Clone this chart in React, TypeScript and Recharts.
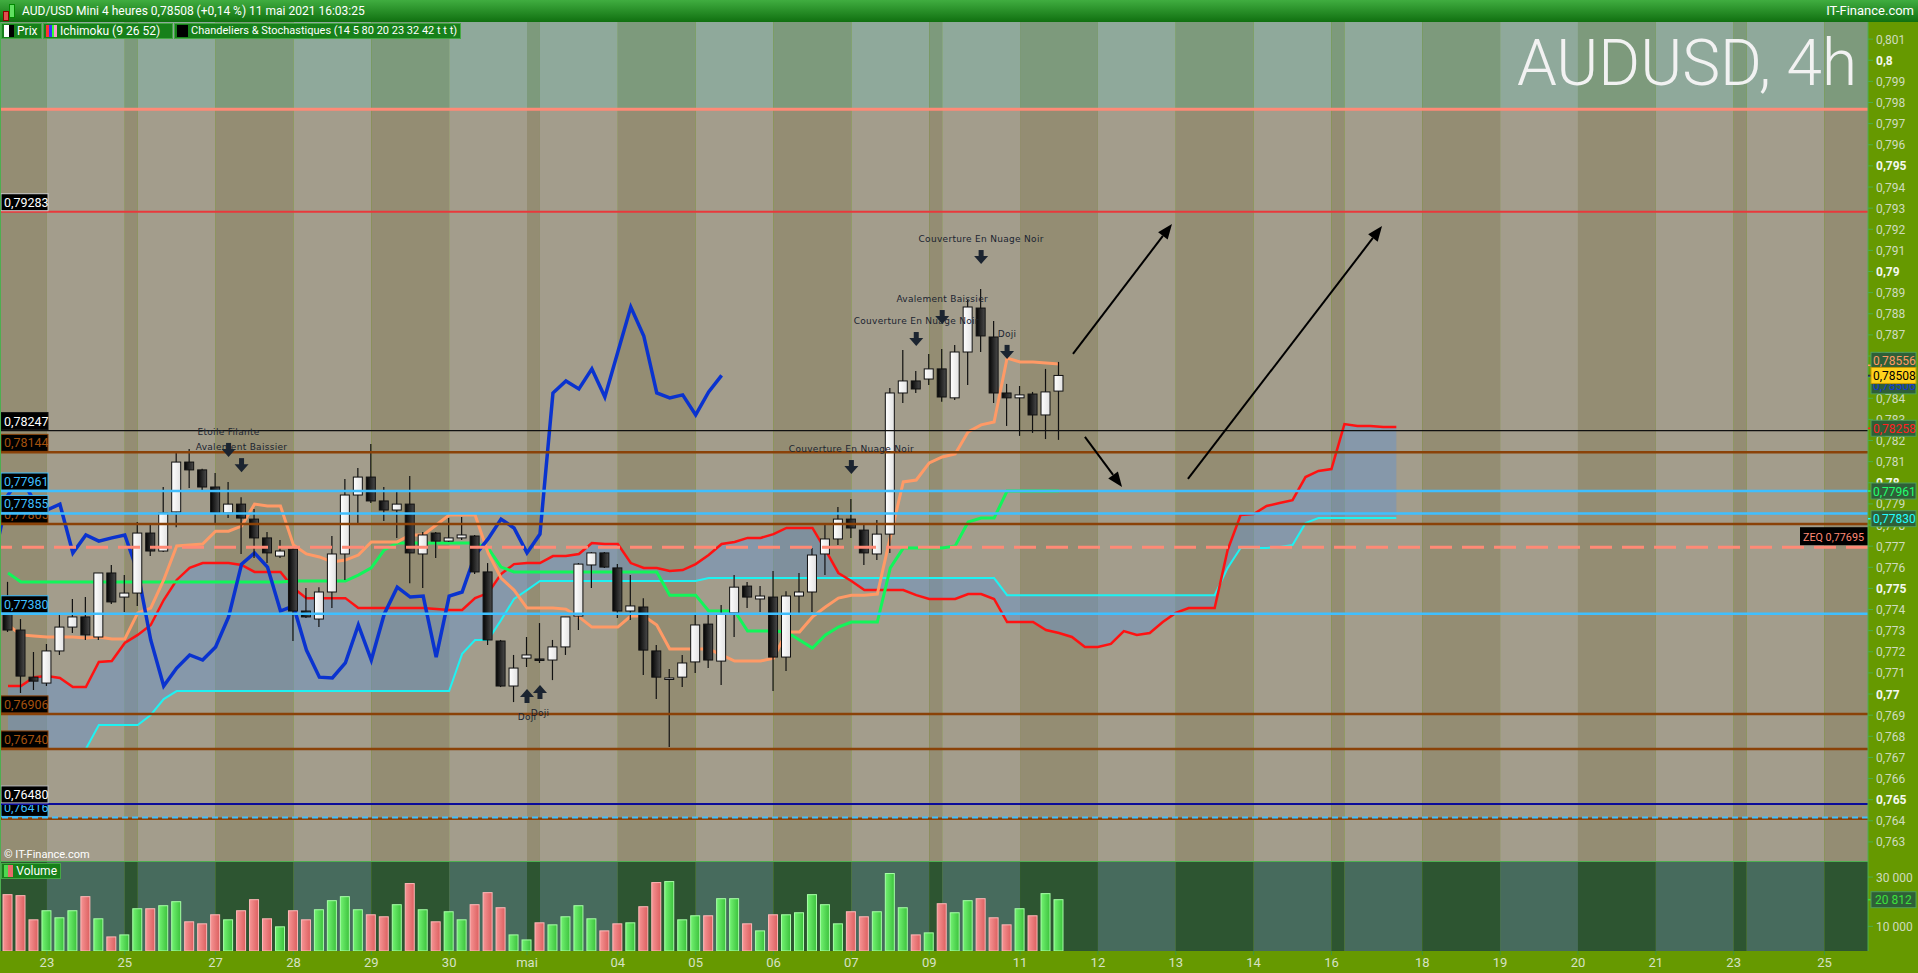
import React from 'react';
import {
  ComposedChart, Bar, Line, Area, XAxis, YAxis,
  ReferenceLine, ReferenceArea, ReferenceDot,
} from 'recharts';

// AUD/USD 4h candles, 22 avr -> 11 mai 2021 (index 0 = first full candle)
const OPEN = [
  0.77384, 0.77303, 0.77080, 0.77052, 0.77204, 0.77317, 0.77365, 0.77270, 0.77573, 0.77459,
  0.77478, 0.77762, 0.77677, 0.77862, 0.78098, 0.78061, 0.77980, 0.77857, 0.77899, 0.77828,
  0.77739, 0.77653, 0.77686, 0.77393, 0.77355, 0.77483, 0.77663, 0.77942, 0.78027, 0.77914,
  0.77871, 0.77899, 0.77663, 0.77762, 0.77724, 0.77739, 0.77748, 0.77578, 0.77251, 0.77038,
  0.77170, 0.77166, 0.77161, 0.77223, 0.77369, 0.77611, 0.77668, 0.77597, 0.77393, 0.77412,
  0.77204, 0.77071, 0.77080, 0.77152, 0.77331, 0.77156, 0.77384, 0.77511, 0.77450, 0.77459,
  0.77175, 0.77464, 0.77483, 0.77663, 0.77734, 0.77828, 0.77776, 0.77663, 0.77757, 0.78425,
  0.78482, 0.78491, 0.78539, 0.78402, 0.78619, 0.78827, 0.78690, 0.78425, 0.78402, 0.78420,
  0.78321, 0.78434,
];
const HIGH = [
  0.77531, 0.77355, 0.77199, 0.77237, 0.77374, 0.77450, 0.77459, 0.77573, 0.77611, 0.77563,
  0.77814, 0.77805, 0.77980, 0.78146, 0.78160, 0.78066, 0.78046, 0.78004, 0.77932, 0.77876,
  0.77767, 0.77729, 0.77696, 0.77502, 0.77506, 0.77748, 0.78018, 0.78070, 0.78184, 0.77980,
  0.77961, 0.78032, 0.77767, 0.77767, 0.77833, 0.77838, 0.77753, 0.77620, 0.77256, 0.77185,
  0.77270, 0.77336, 0.77256, 0.77365, 0.77620, 0.77672, 0.77672, 0.77615, 0.77563, 0.77454,
  0.77232, 0.77118, 0.77185, 0.77379, 0.77379, 0.77421, 0.77563, 0.77530, 0.77511, 0.77582,
  0.77487, 0.77573, 0.77691, 0.77800, 0.77885, 0.77923, 0.77805, 0.77824, 0.78449, 0.78628,
  0.78529, 0.78610, 0.78633, 0.78652, 0.78865, 0.78917, 0.78766, 0.78468, 0.78458, 0.78430,
  0.78539, 0.78572,
];
const LOW = [
  0.77294, 0.77005, 0.77019, 0.77038, 0.77185, 0.77289, 0.77256, 0.77256, 0.77426, 0.77388,
  0.77417, 0.77653, 0.77672, 0.77790, 0.77975, 0.77956, 0.77800, 0.77833, 0.77663, 0.77644,
  0.77620, 0.77644, 0.77251, 0.77360, 0.77317, 0.77407, 0.77540, 0.77800, 0.77904, 0.77819,
  0.77739, 0.77525, 0.77502, 0.77644, 0.77720, 0.77729, 0.77568, 0.77232, 0.77033, 0.76962,
  0.77128, 0.77147, 0.77066, 0.77185, 0.77303, 0.77502, 0.77597, 0.77360, 0.77350, 0.77090,
  0.76976, 0.76749, 0.77033, 0.77100, 0.77123, 0.77043, 0.77270, 0.77407, 0.77388, 0.77014,
  0.77109, 0.77374, 0.77388, 0.77563, 0.77705, 0.77739, 0.77611, 0.77634, 0.77668, 0.78378,
  0.78425, 0.78463, 0.78383, 0.78392, 0.78463, 0.78619, 0.78378, 0.78269, 0.78222, 0.78236,
  0.78207, 0.78203,
];
const CLOSE = [
  0.77303, 0.77085, 0.77061, 0.77204, 0.77317, 0.77365, 0.77280, 0.77573, 0.77436, 0.77478,
  0.77762, 0.77677, 0.77857, 0.78098, 0.78061, 0.77980, 0.77857, 0.77899, 0.77833, 0.77739,
  0.77668, 0.77677, 0.77393, 0.77365, 0.77483, 0.77663, 0.77942, 0.78027, 0.77914, 0.77871,
  0.77899, 0.77668, 0.77753, 0.77724, 0.77739, 0.77753, 0.77578, 0.77256, 0.77038, 0.77123,
  0.77185, 0.77161, 0.77223, 0.77365, 0.77615, 0.77668, 0.77601, 0.77393, 0.77417, 0.77208,
  0.77080, 0.77076, 0.77147, 0.77327, 0.77161, 0.77379, 0.77506, 0.77459, 0.77464, 0.77175,
  0.77464, 0.77483, 0.77658, 0.77734, 0.77828, 0.77786, 0.77668, 0.77757, 0.78425, 0.78482,
  0.78444, 0.78539, 0.78406, 0.78619, 0.78832, 0.78695, 0.78425, 0.78402, 0.78416, 0.78321,
  0.78430, 0.78508,
];
const VOLUME = [
  22860, 22450, 12650, 16330, 13470, 16330, 22040, 13060, 5710, 6530,
  17140, 17140, 18370, 20000, 11840, 11020, 14690, 12650, 16330, 20820,
  13060, 9800, 16330, 12650, 16730, 20410, 22040, 16730, 14690, 13880,
  18780, 27350, 16730, 11840, 15920, 12650, 18780, 23670, 17550, 6530,
  4490, 11430, 10610, 13880, 18370, 13060, 8160, 11020, 11430, 17960,
  27750, 28160, 12650, 14290, 14290, 21220, 21220, 11020, 8160, 14690,
  14690, 15510, 22860, 18780, 11020, 15920, 13880, 15920, 31430, 17550,
  6530, 7350, 19180, 15510, 20410, 21220, 13470, 10610, 17140, 14290,
  23270, 20812,
];

// Ichimoku (9 26 52)
const TENKAN = [
  0.77327, 0.77280, 0.77275, 0.77270, 0.77270, 0.77270, 0.77265, 0.77270, 0.77261, 0.77261,
  0.77384, 0.77407, 0.77540, 0.77701, 0.77705, 0.77710, 0.77771, 0.77771, 0.77795, 0.77899,
  0.77890, 0.77890, 0.77705, 0.77663, 0.77649, 0.77625, 0.77634, 0.77658, 0.77720, 0.77720,
  0.77720, 0.77753, 0.77753, 0.77800, 0.77847, 0.77847, 0.77847, 0.77668, 0.77549, 0.77492,
  0.77407, 0.77407, 0.77407, 0.77402, 0.77365, 0.77317, 0.77317, 0.77317, 0.77369, 0.77369,
  0.77327, 0.77213, 0.77213, 0.77213, 0.77213, 0.77185, 0.77156, 0.77156, 0.77156, 0.77170,
  0.77294, 0.77294, 0.77365, 0.77412, 0.77454, 0.77468, 0.77468, 0.77473, 0.77743, 0.78004,
  0.78013, 0.78094, 0.78122, 0.78136, 0.78241, 0.78274, 0.78288, 0.78590, 0.78572, 0.78572,
  0.78567, 0.78562,
];
const KIJUN = [
  0.77573, 0.77530, 0.77530, 0.77530, 0.77530, 0.77530, 0.77530, 0.77530, 0.77530, 0.77530,
  0.77530, 0.77530, 0.77530, 0.77530, 0.77530, 0.77530, 0.77530, 0.77530, 0.77530, 0.77530,
  0.77530, 0.77530, 0.77535, 0.77535, 0.77535, 0.77535, 0.77535, 0.77563, 0.77597, 0.77682,
  0.77715, 0.77715, 0.77715, 0.77715, 0.77715, 0.77715, 0.77715, 0.77691, 0.77601, 0.77578,
  0.77578, 0.77578, 0.77578, 0.77578, 0.77578, 0.77578, 0.77578, 0.77578, 0.77578, 0.77578,
  0.77578, 0.77468, 0.77468, 0.77468, 0.77393, 0.77393, 0.77393, 0.77298, 0.77298, 0.77298,
  0.77294, 0.77256, 0.77218, 0.77280, 0.77317, 0.77341, 0.77341, 0.77341, 0.77597, 0.77691,
  0.77691, 0.77691, 0.77691, 0.77701, 0.77814, 0.77833, 0.77833, 0.77961, 0.77961, 0.77961,
  0.77961, 0.77961,
];
const SENKOU_A = [
  0.77038, 0.77038, 0.77080, 0.77085, 0.77076, 0.77033, 0.77033, 0.77152, 0.77156, 0.77242,
  0.77280, 0.77327, 0.77445, 0.77540, 0.77597, 0.77620, 0.77620, 0.77620, 0.77611, 0.77578,
  0.77578, 0.77578, 0.77502, 0.77454, 0.77454, 0.77454, 0.77454, 0.77407, 0.77407, 0.77407,
  0.77407, 0.77407, 0.77407, 0.77402, 0.77398, 0.77398, 0.77454, 0.77478, 0.77568, 0.77615,
  0.77620, 0.77620, 0.77653, 0.77653, 0.77663, 0.77715, 0.77710, 0.77710, 0.77620, 0.77597,
  0.77597, 0.77582, 0.77587, 0.77615, 0.77658, 0.77710, 0.77720, 0.77739, 0.77739, 0.77757,
  0.77786, 0.77786, 0.77786, 0.77682, 0.77573, 0.77535, 0.77492, 0.77492, 0.77492, 0.77492,
  0.77468, 0.77450, 0.77450, 0.77450, 0.77473, 0.77473, 0.77450, 0.77341, 0.77341, 0.77341,
  0.77303, 0.77289, 0.77270, 0.77223, 0.77223, 0.77237, 0.77298, 0.77280, 0.77289, 0.77341,
  0.77384, 0.77407, 0.77407, 0.77407, 0.77682, 0.77847, 0.77852, 0.77890, 0.77904, 0.77918,
  0.78027, 0.78056, 0.78065, 0.78278, 0.78269, 0.78269, 0.78264, 0.78264,
];
const SENKOU_B = [
  0.76740, 0.76740, 0.76740, 0.76740, 0.76740, 0.76740, 0.76740, 0.76853, 0.76853, 0.76853,
  0.76853, 0.76901, 0.76976, 0.77014, 0.77014, 0.77014, 0.77014, 0.77014, 0.77014, 0.77014,
  0.77014, 0.77014, 0.77014, 0.77014, 0.77014, 0.77014, 0.77014, 0.77014, 0.77014, 0.77014,
  0.77014, 0.77014, 0.77014, 0.77014, 0.77014, 0.77190, 0.77256, 0.77256, 0.77350, 0.77450,
  0.77492, 0.77535, 0.77535, 0.77535, 0.77535, 0.77535, 0.77535, 0.77535, 0.77535, 0.77535,
  0.77535, 0.77535, 0.77535, 0.77535, 0.77549, 0.77549, 0.77549, 0.77549, 0.77549, 0.77549,
  0.77549, 0.77549, 0.77549, 0.77549, 0.77549, 0.77549, 0.77549, 0.77549, 0.77549, 0.77549,
  0.77549, 0.77549, 0.77549, 0.77549, 0.77549, 0.77549, 0.77549, 0.77468, 0.77468, 0.77468,
  0.77468, 0.77468, 0.77468, 0.77468, 0.77468, 0.77468, 0.77468, 0.77468, 0.77468, 0.77468,
  0.77468, 0.77468, 0.77468, 0.77468, 0.77597, 0.77691, 0.77691, 0.77691, 0.77696, 0.77705,
  0.77809, 0.77833, 0.77833, 0.77833, 0.77833, 0.77833, 0.77833, 0.77833,
];
const CHIKOU_SHIFT = 26;

// time axis: day boundaries (in candle index), labels
const DAY_BOUNDS = [3, 9, 10, 16, 22, 28, 34, 40, 41, 47, 53, 59, 65, 71, 72, 78, 84, 90, 96, 102, 103, 109, 115, 121, 127, 133, 134, 140];
const DAY_TICKS = [3, 9, 16, 22, 28, 34, 40, 47, 53, 59, 65, 71, 78, 84, 90, 96, 102, 109, 115, 121, 127, 133, 140];
const DAY_LABELS = ['23', '25', '27', '28', '29', '30', 'mai', '04', '05', '06', '07', '09', '11', '12', '13', '14', '16', '18', '19', '20', '21', '23', '25'];

const PRICE_TICKS = [
  0.763, 0.764, 0.765, 0.766, 0.767, 0.768, 0.769, 0.770, 0.771, 0.772,
  0.773, 0.774, 0.775, 0.776, 0.777, 0.778, 0.779, 0.780, 0.781, 0.782,
  0.783, 0.784, 0.785, 0.786, 0.787, 0.788, 0.789, 0.790, 0.791, 0.792,
  0.793, 0.794, 0.795, 0.796, 0.797, 0.798, 0.799, 0.800, 0.801,
];
const VOLUME_TICKS = [10000, 30000];

// drawn horizontal levels (ascending)
const LEVEL_PRICES = [0.76410, 0.76416, 0.76480, 0.76740, 0.76906, 0.77380, 0.77695, 0.77805, 0.77855, 0.77961, 0.78144, 0.78247, 0.79283, 0.79768];
const LEVEL_KINDS = ['brownPlain', 'blueDash', 'navy', 'brown', 'brown', 'blue', 'zeq', 'brown', 'blue', 'blue', 'brown', 'black', 'red', 'salmon'];
const ZONE_TOP = 0.79768;

// last-value badges on the price axis
const BADGE_VALUES = [0.78556, 0.78506, 0.78508, 0.78258, 0.77961, 0.77830];
const BADGE_KINDS = ['tenkan', 'chikou', 'price', 'senkouA', 'kijun', 'senkouB'];

// candlestick patterns
const PATTERN_IDX = [17, 18, 40, 41, 65, 70, 72, 75, 77];
const PATTERN_NAMES = ['Etoile Filante', 'Avalement Baissier', 'Doji', 'Doji', 'Couverture En Nuage Noir', 'Couverture En Nuage Noir', 'Avalement Baissier', 'Couverture En Nuage Noir', 'Doji'];
const PATTERN_DIRS = ['down', 'down', 'up', 'up', 'down', 'down', 'down', 'down', 'down'];

// hand-drawn arrows
const ARROW_FROM_X = [82.08, 83.0, 90.94];
const ARROW_FROM_Y = [0.78610, 0.78217, 0.78018];
const ARROW_TO_X = [89.71, 85.86, 105.9];
const ARROW_TO_Y = [0.79225, 0.77980, 0.79215];

const X_MIN = -0.617;
const X_MAX = 143.353;
const P_MIN = 0.76205;
const P_MAX = 0.80181;
const V_MAX = 36100;

const LEVEL_STYLE: Record<string, any> = {
  salmon: { stroke: '#ff8a76', width: 3 },
  red: { stroke: '#e8393b', width: 2, text: '#ffffff', border: '#d0d0d0' },
  black: { stroke: '#111111', width: 1.2, text: '#ffffff', border: '#111111' },
  brown: { stroke: '#8a4208', width: 2.5, text: '#a4520f', border: '#8a4208' },
  brownPlain: { stroke: '#8a4208', width: 2.5 },
  blue: { stroke: '#3fbfff', width: 2.5, text: '#3fbfff', border: '#3fbfff' },
  blueDash: { stroke: '#3fbfff', width: 2, dash: '6 4', text: '#3fbfff', border: '#3fbfff' },
  navy: { stroke: '#0b0b9a', width: 2, text: '#ffffff', border: '#bbbbbb' },
  zeq: { stroke: '#ff8a76', width: 3, dash: '22 10' },
};

const BADGE_STYLE: Record<string, any> = {
  tenkan: { text: '#ff9a66', fill: '#2f5f38', dy: -5 },
  chikou: { text: '#1838d0', fill: '#2f5f38', dy: 10 },
  price: { text: '#000000', fill: '#ffd21c', dy: 0 },
  senkouA: { text: '#ff2020', fill: '#2f5f38', dy: 0 },
  kijun: { text: '#22ff6e', fill: '#2f5f38', dy: 0 },
  senkouB: { text: '#22ffff', fill: '#2f5f38', dy: 0 },
};

const FONT = 'Roboto, "Noto Sans", sans-serif';

const fmtPrice = (v: number) => v.toFixed(5).replace('.', ',');
const fmtTick = (v: number) => String(Number(v.toFixed(3))).replace('.', ',');
const fmtVolume = (v: number) => String(v).replace(/\B(?=(\d{3})+(?!\d))/g, ' ');

// partial candle at the left edge only shows through its lagging span
const priceRows: any[] = [
  { idx: -1, chikou: CLOSE[CHIKOU_SHIFT - 1] },
  ...SENKOU_A.map((a, i) => ({
    idx: i,
    open: OPEN[i],
    high: HIGH[i],
    low: LOW[i],
    close: CLOSE[i],
    tenkan: TENKAN[i],
    kijun: KIJUN[i],
    senkouA: a,
    senkouB: SENKOU_B[i],
    chikou: i + CHIKOU_SHIFT < CLOSE.length ? CLOSE[i + CHIKOU_SHIFT] : undefined,
  })),
];

const volumeRows = VOLUME.map((v, i) => ({ idx: i, volume: v, up: CLOSE[i] >= OPEN[i] }));

const segments = (() => {
  const b = [X_MIN, ...DAY_BOUNDS, X_MAX];
  return b.slice(0, -1).map((x1, i) => ({ x1, x2: b[i + 1], dark: i % 2 === 0 }));
})();

const renderCandle = (props: any) => {
  const { x, y, width, height, payload } = props;
  if (!payload || payload.open == null || !isFinite(y) || !isFinite(height)) return <g />;
  const ratio = height / (payload.high - payload.low);
  const yOf = (v: number) => y + (payload.high - v) * ratio;
  const up = payload.close >= payload.open;
  const top = yOf(Math.max(payload.open, payload.close));
  const bottom = yOf(Math.min(payload.open, payload.close));
  const cx = x + width / 2;
  return (
    <g>
      <line x1={cx} y1={y} x2={cx} y2={y + height} stroke="#111" strokeWidth={1.2} />
      <rect x={x + 0.5} y={top} width={width - 1} height={Math.max(bottom - top, 1.5)}
        fill={up ? 'url(#candleUp)' : 'url(#candleDown)'} stroke="#111" strokeWidth={1} />
    </g>
  );
};

const renderVolume = (props: any) => {
  const { x, y, width, height, payload } = props;
  if (!payload || !isFinite(height)) return <g />;
  const up = payload.up;
  return (
    <rect x={x + 0.5} y={y} width={width - 1} height={height}
      fill={up ? 'url(#volUp)' : 'url(#volDown)'} stroke={up ? '#a6ffa6' : '#ffb8b8'} strokeWidth={1} />
  );
};

const renderLevel = (props: any, price: number, kind: string) => {
  const { x1, y1, x2, y2 } = props;
  const left = Math.min(x1, x2);
  const right = Math.max(x1, x2);
  const s = LEVEL_STYLE[kind];
  return (
    <g>
      <line x1={x1} y1={y1} x2={x2} y2={y2} stroke={s.stroke} strokeWidth={s.width} strokeDasharray={s.dash} />
      {s.text && (
        <g>
          <rect x={left + 1} y={y1 - 18} width={47} height={17} fill="#000" stroke={s.border} strokeWidth={1} />
          <text x={left + 4} y={y1 - 5} fontSize={12.5} fill={s.text} fontFamily={FONT}>{fmtPrice(price)}</text>
        </g>
      )}
      {kind === 'zeq' && (
        <g>
          <rect x={right - 68} y={y1 - 20} width={68} height={18} fill="#000" />
          <text x={right - 65} y={y1 - 6.5} fontSize={11.5} fill="#ff8a76" fontFamily={FONT}
            textLength={61} lengthAdjust="spacingAndGlyphs">{'ZEQ ' + fmtPrice(price)}</text>
        </g>
      )}
    </g>
  );
};

const renderBadge = (props: any, value: number, kind: string) => {
  const { cx, cy } = props;
  const s = BADGE_STYLE[kind];
  const yc = cy + s.dy;
  return (
    <g>
      <line x1={cx} y1={cy} x2={cx + 4} y2={cy} stroke={kind === 'price' ? '#333' : s.text} strokeWidth={1.5} />
      <rect x={cx + 3} y={yc - 8} width={45} height={16} fill={s.fill} stroke={kind === 'price' ? '#c89a00' : '#4f9f5a'} strokeWidth={1} />
      <text x={cx + 5} y={yc + 4.5} fontSize={12} fill={s.text} fontFamily={FONT}>{fmtPrice(value)}</text>
    </g>
  );
};

const renderPattern = (props: any, name: string, dir: string) => {
  const { cx, cy } = props;
  const c = '#1b2430';
  if (dir === 'down') {
    const top = cy - 39;
    return (
      <g>
        <text x={cx} y={cy - 47} textAnchor="middle" fontSize={9} letterSpacing={0.3} fill={c} fontFamily='"DejaVu Sans", sans-serif'>{name}</text>
        <rect x={cx - 2.5} y={top} width={5} height={7} fill={c} />
        <polygon points={`${cx - 7},${top + 6} ${cx + 7},${top + 6} ${cx},${cy - 25}`} fill={c} />
      </g>
    );
  }
  const tip = cy + 22;
  return (
    <g>
      <polygon points={`${cx - 7},${tip + 8} ${cx + 7},${tip + 8} ${cx},${tip}`} fill={c} />
      <rect x={cx - 2.5} y={tip + 7} width={5} height={7} fill={c} />
      <text x={cx} y={cy + 53} textAnchor="middle" fontSize={9} letterSpacing={0.3} fill={c} fontFamily='"DejaVu Sans", sans-serif'>{name}</text>
    </g>
  );
};

const renderArrow = (props: any) => {
  const { x1, y1, x2, y2 } = props;
  const a = Math.atan2(y2 - y1, x2 - x1);
  const len = 15;
  const hw = 6;
  const bx = x2 - len * Math.cos(a);
  const by = y2 - len * Math.sin(a);
  const px = -Math.sin(a) * hw;
  const py = Math.cos(a) * hw;
  return (
    <g>
      <line x1={x1} y1={y1} x2={bx} y2={by} stroke="#000" strokeWidth={2} />
      <polygon points={`${x2},${y2} ${bx + px},${by + py} ${bx - px},${by - py}`} fill="#000" />
    </g>
  );
};

const PriceTick = (props: any) => {
  const { x, y, payload } = props;
  const v = payload.value;
  const major = Math.round(v * 1000) % 5 === 0;
  return (
    <text x={x + 1} y={y + 4.5} fontSize={12} fill={major ? '#f4f8ee' : '#cfdcbf'} fontWeight={major ? 700 : 400} fontFamily={FONT}>
      {fmtTick(v)}
    </text>
  );
};

const VolumeTick = (props: any) => {
  const { x, y, payload } = props;
  return (
    <text x={x + 1} y={y + 4.5} fontSize={12} fill="#cfdcbf" fontFamily={FONT}>{fmtVolume(payload.value)}</text>
  );
};

const DayTick = (props: any) => {
  const { x, y, payload } = props;
  const label = DAY_LABELS[DAY_TICKS.indexOf(payload.value)];
  return (
    <text x={x} y={y + 10} textAnchor="middle" fontSize={13} fill="#d6e2c4" fontFamily={FONT}>{label}</text>
  );
};

const legendBox: React.CSSProperties = {
  position: 'absolute', top: 23, height: 16, background: '#17801a', border: '1px solid #45a845',
  color: '#fff', fontSize: 12, lineHeight: '16px', display: 'flex', alignItems: 'center', gap: 3,
  padding: '0 3px 0 2px', boxSizing: 'border-box', whiteSpace: 'nowrap',
};

export default function App() {
  return (
    <div style={{ position: 'relative', width: 1918, height: 973, background: '#669900', overflow: 'hidden', fontFamily: FONT }}>
      <style>{'body{margin:0}'}</style>

      {/* header */}
      <div style={{ position: 'absolute', left: 0, top: 0, width: 1918, height: 22, background: 'linear-gradient(#40ad40, #107010)' }}>
        <div style={{ position: 'absolute', left: 3, top: 11, width: 4, height: 8, background: '#e05050', border: '1px solid #800' }} />
        <div style={{ position: 'absolute', left: 9, top: 4, width: 4, height: 12, background: '#60e060', border: '1px solid #080' }} />
        <div style={{ position: 'absolute', left: 22, top: 0, lineHeight: '22px', fontSize: 12, color: '#fff', whiteSpace: 'nowrap' }}>
          AUD/USD Mini 4 heures 0,78508 (+0,14 %) 11 mai 2021 16:03:25
        </div>
        <div style={{ position: 'absolute', right: 4, top: 0, lineHeight: '22px', fontSize: 13, color: '#fff' }}>IT-Finance.com</div>
      </div>

      {/* price pane */}
      <div style={{ position: 'absolute', left: 0, top: 22 }}>
        <ComposedChart width={1918} height={840} data={priceRows} margin={{ top: 0, right: 0, bottom: 0, left: 0 }}>
          <defs>
            <linearGradient id="candleDown" x1="0" y1="0" x2="1" y2="0">
              <stop offset="0%" stopColor="#050505" />
              <stop offset="100%" stopColor="#4a4a4a" />
            </linearGradient>
            <linearGradient id="candleUp" x1="0" y1="0" x2="1" y2="0">
              <stop offset="0%" stopColor="#ffffff" />
              <stop offset="100%" stopColor="#e2e2e2" />
            </linearGradient>
          </defs>
          <XAxis dataKey="idx" type="number" domain={[X_MIN, X_MAX]} allowDataOverflow hide />
          <YAxis orientation="right" width={50} domain={[P_MIN, P_MAX]} allowDataOverflow ticks={PRICE_TICKS} interval={0}
            tick={<PriceTick />} tickSize={5} tickMargin={2} tickLine={{ stroke: '#4caf50' }} axisLine={{ stroke: '#4caf50' }} />

          {segments.map((s, i) => (
            <ReferenceArea key={'lo' + i} x1={s.x1} x2={s.x2} y1={P_MIN} y2={ZONE_TOP} ifOverflow="hidden"
              fill={s.dark ? '#948d73' : '#a39d8c'} fillOpacity={1} stroke="none" zIndex={-500} />
          ))}
          {segments.map((s, i) => (
            <ReferenceArea key={'hi' + i} x1={s.x1} x2={s.x2} y1={ZONE_TOP} y2={P_MAX} ifOverflow="hidden"
              fill={s.dark ? '#7d9a7c' : '#8fa99b'} fillOpacity={1} stroke="none" zIndex={-500} />
          ))}

          <Area dataKey={(d: any) => (d.senkouA != null ? [d.senkouB, d.senkouA] : null)} type="linear" fill="#6a94c8" fillOpacity={0.5}
            stroke="none" isAnimationActive={false} activeDot={false} zIndex={100} />
          <Line dataKey="senkouB" type="linear" stroke="#1ef2f2" strokeWidth={2} dot={false} activeDot={false} isAnimationActive={false} />
          <Line dataKey="senkouA" type="linear" stroke="#ff1212" strokeWidth={2.5} dot={false} activeDot={false} isAnimationActive={false} />
          <Line dataKey="kijun" type="linear" stroke="#12f55a" strokeWidth={3} dot={false} activeDot={false} isAnimationActive={false} />
          <Line dataKey="tenkan" type="linear" stroke="#ff9a66" strokeWidth={3} dot={false} activeDot={false} isAnimationActive={false} />
          <Line dataKey="chikou" type="linear" stroke="#0a33cf" strokeWidth={3.5} dot={false} activeDot={false} isAnimationActive={false} />

          <Bar dataKey={(d: any) => (d.open != null ? [d.low, d.high] : null)} barSize={10} shape={renderCandle}
            isAnimationActive={false} zIndex={450} />

          {LEVEL_PRICES.map((p, i) => (
            <ReferenceLine key={'lv' + i} y={p} ifOverflow="visible" zIndex={460}
              shape={(props: any) => renderLevel(props, p, LEVEL_KINDS[i])} />
          ))}

          {PATTERN_IDX.map((k, i) => (
            <ReferenceDot key={'pt' + i} x={k} y={PATTERN_DIRS[i] === 'down' ? HIGH[k] : LOW[k]} ifOverflow="visible" zIndex={470}
              shape={(props: any) => renderPattern(props, PATTERN_NAMES[i], PATTERN_DIRS[i])} />
          ))}

          {ARROW_FROM_X.map((x, i) => (
            <ReferenceLine key={'ar' + i} ifOverflow="visible" zIndex={470}
              segment={[{ x, y: ARROW_FROM_Y[i] }, { x: ARROW_TO_X[i], y: ARROW_TO_Y[i] }]} shape={renderArrow} />
          ))}

          {BADGE_VALUES.map((v, i) => (
            <ReferenceDot key={'bd' + i} x={X_MAX} y={v} ifOverflow="visible" zIndex={2100}
              shape={(props: any) => renderBadge(props, v, BADGE_KINDS[i])} />
          ))}
        </ComposedChart>
      </div>

      {/* volume pane */}
      <div style={{ position: 'absolute', left: 0, top: 862 }}>
        <ComposedChart width={1918} height={111} data={volumeRows} margin={{ top: 0, right: 0, bottom: 0, left: 0 }}>
          <defs>
            <linearGradient id="volUp" x1="0" y1="0" x2="1" y2="0">
              <stop offset="0%" stopColor="#72f272" />
              <stop offset="100%" stopColor="#3cc23c" />
            </linearGradient>
            <linearGradient id="volDown" x1="0" y1="0" x2="1" y2="0">
              <stop offset="0%" stopColor="#f69494" />
              <stop offset="100%" stopColor="#dc6060" />
            </linearGradient>
          </defs>
          <XAxis dataKey="idx" type="number" domain={[X_MIN, X_MAX]} allowDataOverflow ticks={DAY_TICKS} interval={0}
            height={22} axisLine={false} tickLine={{ stroke: '#3f963f' }} tickSize={4} tick={<DayTick />} />
          <YAxis orientation="right" width={50} domain={[0, V_MAX]} allowDataOverflow ticks={VOLUME_TICKS} interval={0}
            tick={<VolumeTick />} tickSize={5} tickMargin={2} tickLine={{ stroke: '#4caf50' }} axisLine={{ stroke: '#4caf50' }} />
          {segments.map((s, i) => (
            <ReferenceArea key={'vb' + i} x1={s.x1} x2={s.x2} y1={0} y2={V_MAX} ifOverflow="hidden"
              fill={s.dark ? '#2d5531' : '#476b5d'} fillOpacity={1} stroke="none" zIndex={-500} />
          ))}
          <Bar dataKey="volume" barSize={10} shape={renderVolume} isAnimationActive={false} />
          <ReferenceDot x={X_MAX} y={VOLUME[VOLUME.length - 1]} ifOverflow="visible" zIndex={2100}
            shape={(props: any) => (
              <g>
                <line x1={props.cx} y1={props.cy} x2={props.cx + 4} y2={props.cy} stroke="#3ce03c" strokeWidth={1.5} />
                <rect x={props.cx + 3} y={props.cy - 8} width={45} height={16} fill="#2f5f38" stroke="#4f9f5a" />
                <text x={props.cx + 7} y={props.cy + 4.5} fontSize={12} fill="#3ce03c" fontFamily={FONT}>{fmtVolume(VOLUME[VOLUME.length - 1])}</text>
              </g>
            )} />
        </ComposedChart>
      </div>

      {/* pane separator */}
      <div style={{ position: 'absolute', left: 0, top: 861, width: 1868, height: 1, background: '#4caf50' }} />
      <div style={{ position: 'absolute', left: 0, top: 22, width: 1, height: 929, background: '#4caf50' }} />

      {/* legends */}
      <div style={{ ...legendBox, left: 1, width: 41 }}>
        <span style={{ display: 'inline-block', width: 10, height: 12, background: 'linear-gradient(90deg,#fff 50%,#000 50%)' }} />Prix
      </div>
      <div style={{ ...legendBox, left: 43, width: 130 }}>
        <span style={{ display: 'inline-block', width: 11, height: 12, background: 'linear-gradient(90deg,#f33 0 25%,#33f 25% 50%,#3f3 50% 75%,#f9c 75%)' }} />Ichimoku (9 26 52)
      </div>
      <div style={{ ...legendBox, left: 174, fontSize: 11 }}>
        <span style={{ display: 'inline-block', width: 11, height: 12, background: '#000', flex: '0 0 auto' }} />Chandeliers &amp; Stochastiques (14 5 80 20 23 32 42 t t t)
      </div>
      <div style={{ ...legendBox, top: 863, left: 1, width: 60 }}>
        <span style={{ display: 'inline-block', width: 10, height: 12, background: 'linear-gradient(90deg,#4fd84f 50%,#e86a6a 50%)' }} />Volume
      </div>

      <svg width={1918} height={973} style={{ position: 'absolute', left: 0, top: 0, pointerEvents: 'none' }}>
        <text x={1857} y={85} textAnchor="end" fontSize={64} fontWeight={300} fill="#f2f2f2" fontFamily={FONT}
          textLength={340} lengthAdjust="spacingAndGlyphs">AUDUSD, 4h</text>
        <text x={4} y={858} fontSize={11} fill="#ffffff" fontFamily={FONT}>© IT-Finance.com</text>
      </svg>
    </div>
  );
}
